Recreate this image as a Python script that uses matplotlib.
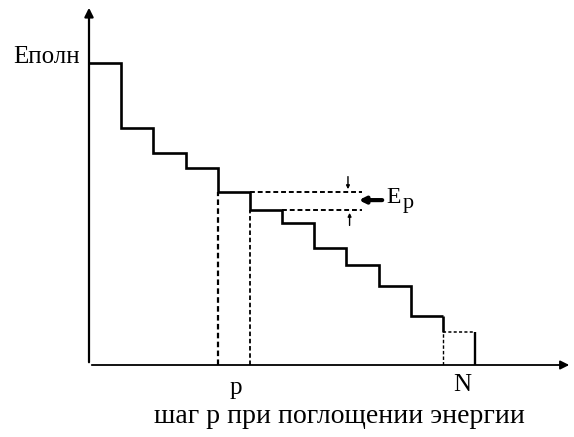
import numpy as np
import matplotlib.pyplot as plt

plt.rcParams['font.family'] = ['Liberation Serif', 'DejaVu Serif']

# step edges (step number) and energy level on each step
edges = np.arange(13)
energy = [100, 78.5, 70.2, 65.2, 57.3, 51.3, 47.0, 38.7, 33.1, 26.2, 16.2, 10.9]
p_step = 4
n_step = 11

fig = plt.figure(figsize=(5.74, 4.37), dpi=100)
ax = fig.add_axes([89 / 574, 72 / 437, 483 / 574, 360 / 437])
xmax, ymax = 483 / 32.17, 360 / 3.02
ax.set_xlim(0, xmax)
ax.set_ylim(0, ymax)
ax.axis('off')

# axes with arrows
arrow = dict(arrowstyle='-|>', color='k', lw=1.6, mutation_scale=13)
ax.annotate('', xy=(0, ymax), xytext=(0, 0), arrowprops=arrow, annotation_clip=False)
ax.annotate('', xy=(xmax, 0), xytext=(0, 0), arrowprops=dict(arrow, lw=1.3), annotation_clip=False)

# staircase
ax.stairs(energy[:n_step], edges[:n_step + 1], baseline=None, color='k', lw=1.9)
ax.vlines(edges[n_step], energy[n_step], energy[n_step - 1], color='k', lw=1.9)
ax.hlines(energy[n_step], edges[n_step], edges[n_step + 1], color='k', lw=1.1, linestyles=(0, (2, 1.5)))
ax.vlines(edges[n_step + 1], 0, energy[n_step], color='k', lw=1.7)

# dashed drop lines
dash = (0, (2.5, 1.5))
ax.vlines(edges[p_step], 0, energy[p_step], color='k', lw=1.6, linestyles=dash)
ax.vlines(edges[p_step + 1], 0, energy[p_step + 1], color='k', lw=1.3, linestyles=dash)
ax.vlines(edges[n_step], 0, energy[n_step], color='k', lw=1.0, linestyles=dash)

# E_p bracket
xe = 8.49
ax.hlines(energy[p_step], edges[p_step + 1], xe, color='k', lw=1.4, linestyles=dash)
ax.hlines(energy[p_step + 1], edges[p_step + 2], xe, color='k', lw=1.4, linestyles=dash)
small = dict(arrowstyle='-|>', color='k', lw=1.0, mutation_scale=5)
ax.annotate('', xy=(8.05, energy[p_step]), xytext=(8.05, energy[p_step] + 6), arrowprops=small)
ax.annotate('', xy=(8.1, energy[p_step + 1]), xytext=(8.1, energy[p_step + 1] - 6), arrowprops=small)
ax.annotate('', xy=(8.3, 54.6), xytext=(9.2, 54.6),
            arrowprops=dict(arrowstyle='-|>', color='k', lw=3, mutation_scale=9))
ax.text(9.25, 53.6, 'E', fontsize=17, ha='left', va='baseline')
ax.text(9.75, 52.0, 'p', fontsize=16, ha='left', va='baseline')

# labels
ax.text(-0.3, 100, 'Eполн', fontsize=18, ha='right', va='baseline', clip_on=False)
ax.text(p_step + 0.55, -4.0, 'p', fontsize=18, ha='center', va='top', clip_on=False)
ax.text(n_step + 0.6, -3, 'N', fontsize=18, ha='center', va='top', clip_on=False)
fig.text(339 / 574, 1 - 423 / 437, 'шаг р при поглощении энергии', fontsize=20,
         ha='center', va='baseline')

fig.savefig('out.png', dpi=100)
